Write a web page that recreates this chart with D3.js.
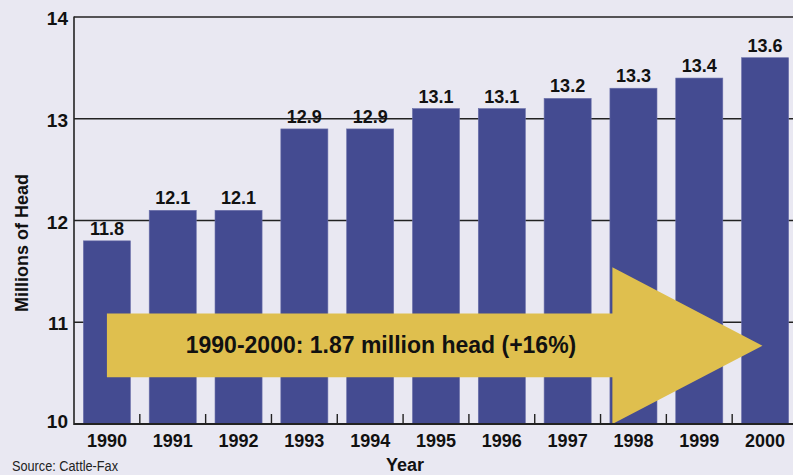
<!DOCTYPE html>
<html lang="en">
<head>
    <meta charset="UTF-8">
    <title>Cattle inventory 1990-2000</title>
    <script src="https://d3js.org/d3.v7.min.js"></script>
    <style>
        * { margin: 0; padding: 0; box-sizing: border-box; }
        body { background-color: #e9e8f2; font-family: "Liberation Sans", Arial, sans-serif; }
        svg { display: block; }
        .bold { font-weight: bold; fill: #111; }
    </style>
</head>
<body>
    <div id="chart"></div>
    <script>
        // datos
        const years = ["1990", "1991", "1992", "1993", "1994", "1995", "1996", "1997", "1998", "1999", "2000"];
        const head = [11.8, 12.1, 12.1, 12.9, 12.9, 13.1, 13.1, 13.2, 13.3, 13.4, 13.6];
        const yTicks = [10, 11, 12, 13, 14];
        const arrowLabel = "1990-2000: 1.87 million head (+16%)";

        const width = 793, height = 475;
        const plotLeft = 74, plotBottom = 424, plotTop = 17;

        const svg = d3.select("#chart")
            .append("svg")
            .attr("width", width)
            .attr("height", height);

        const x = d3.scaleBand()
            .domain(years)
            .range([plotLeft, 798])
            .paddingInner(0.285)
            .paddingOuter(0.1425);

        const y = d3.scaleLinear()
            .domain([10, 14])
            .range([plotBottom, plotTop]);

        // posicion fraccionaria en el eje de categorias
        const xPos = i => x.range()[0] + i * x.step();

        // lineas de referencia
        svg.selectAll(".grid")
            .data(yTicks.filter(d => d > 10))
            .join("line")
            .attr("class", "grid")
            .attr("x1", plotLeft).attr("x2", width)
            .attr("y1", d => y(d)).attr("y2", d => y(d))
            .attr("stroke", "#222")
            .attr("stroke-width", 1.4);

        // barras
        svg.selectAll(".bar")
            .data(head)
            .join("rect")
            .attr("class", "bar")
            .attr("x", (d, i) => x(years[i]))
            .attr("y", d => y(d))
            .attr("width", x.bandwidth())
            .attr("height", d => plotBottom - y(d))
            .attr("fill", "#444b91")
            .attr("stroke", "#6a6faa")
            .attr("stroke-width", 0.6);

        // valores sobre las barras
        svg.selectAll(".value")
            .data(head)
            .join("text")
            .attr("class", "value bold")
            .attr("x", (d, i) => x(years[i]) + x.bandwidth() / 2)
            .attr("y", d => y(d) - 6)
            .attr("text-anchor", "middle")
            .style("font-size", "18px")
            .text(d => d.toFixed(1));

        // flecha (coordenadas en unidades de datos)
        const shaftL = 0.5, headX = 8.18, tipX = 10.46;
        const shaftTop = 11.085, shaftBot = 10.46, headTop = 11.54, headBot = 10.0, tipY = 10.77;
        const arrowPts = [
            [xPos(shaftL), y(shaftTop)],
            [xPos(headX), y(shaftTop)],
            [xPos(headX), y(headTop)],
            [xPos(tipX), y(tipY)],
            [xPos(headX), y(headBot)],
            [xPos(headX), y(shaftBot)],
            [xPos(shaftL), y(shaftBot)]
        ];
        svg.append("path")
            .attr("d", d3.line()(arrowPts) + "Z")
            .attr("fill", "#dfbf4e");

        svg.append("text")
            .attr("class", "bold")
            .attr("x", 381)
            .attr("y", (y(shaftTop) + y(shaftBot)) / 2 + 8)
            .attr("text-anchor", "middle")
            .style("font-size", "23px")
            .text(arrowLabel);

        // ejes
        svg.append("line")
            .attr("x1", plotLeft).attr("x2", plotLeft)
            .attr("y1", plotTop - 0.5).attr("y2", plotBottom + 1)
            .attr("stroke", "#222").attr("stroke-width", 1.6);
        svg.append("line")
            .attr("x1", plotLeft).attr("x2", width)
            .attr("y1", plotBottom).attr("y2", plotBottom)
            .attr("stroke", "#222").attr("stroke-width", 2);

        // marcas entre categorias
        svg.selectAll(".tick")
            .data(d3.range(1, years.length))
            .join("line")
            .attr("class", "tick")
            .attr("x1", i => xPos(i)).attr("x2", i => xPos(i))
            .attr("y1", plotBottom - 10).attr("y2", plotBottom)
            .attr("stroke", "#222").attr("stroke-width", 1.4);

        svg.selectAll(".ylab")
            .data(yTicks)
            .join("text")
            .attr("class", "ylab bold")
            .attr("x", plotLeft - 6)
            .attr("y", d => y(d) + (d === 10 ? 4 : 8))
            .attr("text-anchor", "end")
            .style("font-size", "19px")
            .text(d => d);

        svg.selectAll(".xlab")
            .data(years)
            .join("text")
            .attr("class", "xlab bold")
            .attr("x", d => x(d) + x.bandwidth() / 2)
            .attr("y", 447)
            .attr("text-anchor", "middle")
            .style("font-size", "18px")
            .text(d => d);

        // titulos
        svg.append("text")
            .attr("class", "bold")
            .attr("transform", "translate(28,243) rotate(-90)")
            .attr("text-anchor", "middle")
            .attr("textLength", 138)
            .attr("lengthAdjust", "spacingAndGlyphs")
            .style("font-size", "18px")
            .text("Millions of Head");

        svg.append("text")
            .attr("class", "bold")
            .attr("x", 405)
            .attr("y", 471)
            .attr("text-anchor", "middle")
            .style("font-size", "18px")
            .text("Year");

        svg.append("text")
            .attr("x", 12)
            .attr("y", 471)
            .attr("textLength", 106)
            .attr("lengthAdjust", "spacingAndGlyphs")
            .style("font-size", "14px")
            .style("fill", "#222")
            .text("Source: Cattle-Fax");
    </script>
</body>
</html>
